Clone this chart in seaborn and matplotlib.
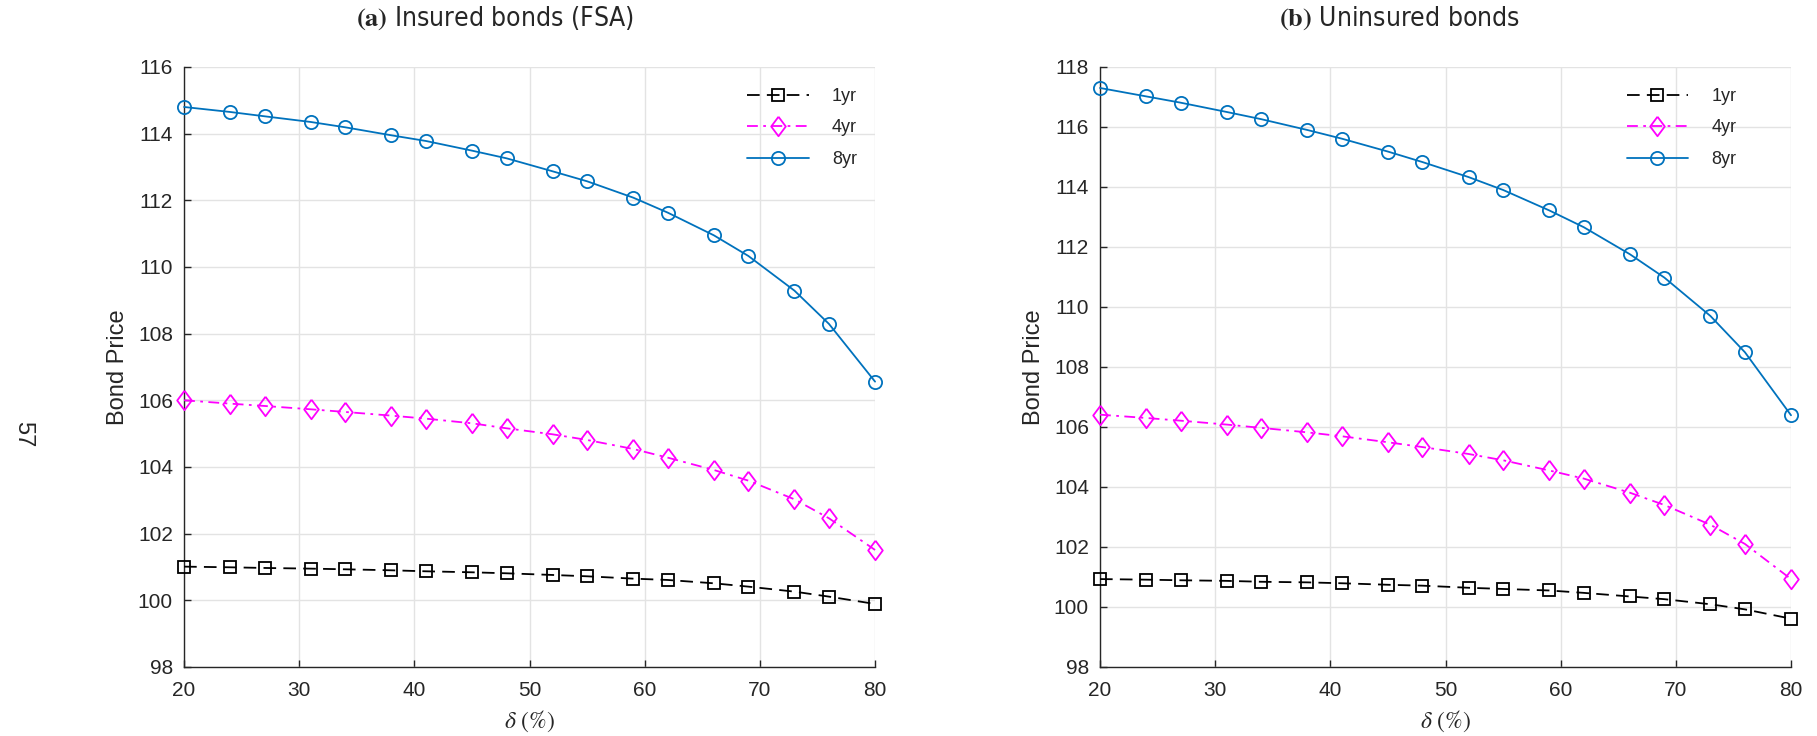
import numpy as np
import pandas as pd
import seaborn as sns
from matplotlib import pyplot as plt

# delta (%) at the marker positions
delta = [20, 24, 27, 31, 34, 38, 41, 45, 48, 52, 55, 59, 62, 66, 69, 73, 76, 80]

# (a) insured bonds (FSA)
ins_1yr = [101.01, 100.99, 100.97, 100.95, 100.93, 100.90, 100.87, 100.84, 100.81,
           100.76, 100.72, 100.65, 100.61, 100.51, 100.41, 100.26, 100.11, 99.89]
ins_4yr = [106.00, 105.90, 105.83, 105.73, 105.65, 105.54, 105.45, 105.31, 105.16,
           104.98, 104.81, 104.54, 104.28, 103.91, 103.59, 103.03, 102.46, 101.51]
ins_8yr = [114.80, 114.65, 114.52, 114.35, 114.19, 113.95, 113.78, 113.49, 113.26,
           112.87, 112.57, 112.08, 111.63, 110.95, 110.33, 109.29, 108.29, 106.56]

# (b) uninsured bonds
unins_1yr = [100.93, 100.91, 100.89, 100.87, 100.84, 100.82, 100.79, 100.74, 100.71,
             100.64, 100.60, 100.55, 100.47, 100.35, 100.26, 100.09, 99.92, 99.61]
unins_4yr = [106.41, 106.30, 106.21, 106.08, 105.97, 105.82, 105.69, 105.49, 105.33,
             105.10, 104.89, 104.55, 104.28, 103.81, 103.40, 102.74, 102.10, 100.93]
unins_8yr = [117.30, 117.02, 116.81, 116.50, 116.26, 115.90, 115.61, 115.18, 114.83,
             114.33, 113.90, 113.22, 112.66, 111.76, 110.98, 109.70, 108.49, 106.39]

labels = ['1yr', '4yr', '8yr']
titles = [r'$\mathbf{(a)}$ Insured bonds (FSA)', r'$\mathbf{(b)}$ Uninsured bonds']
ytops = [116, 118]

sns.set_style('white')
plt.rcParams['font.family'] = ['Liberation Sans', 'DejaVu Sans']
plt.rcParams['mathtext.fontset'] = 'stix'

# matlab-like diamond, a bit taller than wide
diamond = [(0, 1), (0.75, 0), (0, -1), (-0.75, 0), (0, 1)]

# line style / marker per maturity
styles = {'1yr': dict(color='black', linestyle=(0, (7, 4)), marker='s', ms=8),
          '4yr': dict(color='#FF00FF', linestyle=(0, (6, 3, 1.5, 3)), marker=diamond, ms=14),
          '8yr': dict(color='#0072BD', linestyle='-', marker='o', ms=9.5)}

fig = plt.figure(figsize=(18.17, 7.36), dpi=100)
ax1 = fig.add_axes([0.1013, 0.0938, 0.3803, 0.8152])
ax2 = fig.add_axes([0.6054, 0.0938, 0.3803, 0.8152])

panels = [(ax1, [ins_1yr, ins_4yr, ins_8yr]), (ax2, [unins_1yr, unins_4yr, unins_8yr])]
leg_x = [0.815, 0.762]
title_x = [0.2724, 0.770]

for i, (ax, series) in enumerate(panels):
    for lab, vals in zip(labels, series):
        st = styles[lab]
        sns.lineplot(x=delta, y=vals, ax=ax, color=st['color'], linestyle=st['linestyle'],
                     marker=st['marker'], markersize=st['ms'], markerfacecolor='none',
                     markeredgecolor=st['color'], markeredgewidth=1.3, linewidth=1.3,
                     label=lab, clip_on=False, zorder=3)
    ax.set_xlim(20, 80)
    ax.set_ylim(98, ytops[i])
    ax.set_xticks(np.arange(20, 81, 10))
    ax.set_yticks(np.arange(98, ytops[i] + 1, 2))
    ax.grid(True, color='#e3e3e3', linewidth=1)
    ax.set_axisbelow(True)
    for s in ['top', 'right']:
        ax.spines[s].set_visible(False)
    for s in ['left', 'bottom']:
        ax.spines[s].set_color('#262626')
        ax.spines[s].set_linewidth(1.0)
    ax.tick_params(direction='in', length=5, width=1, colors='#262626',
                   labelsize=15, left=True, bottom=True)
    ax.tick_params(axis='x', pad=10)
    ax.tick_params(axis='y', pad=8)
    ax.set_xlabel(r'$\delta\ (\%)$', fontsize=17, labelpad=6)
    ax.set_ylabel('Bond Price', fontsize=17, labelpad=6)
    fig.text(title_x[i], 0.975, titles[i], fontsize=19, ha='center', va='center',
             family='DejaVu Sans', fontstretch='condensed')
    ax.legend(loc='upper left', bbox_to_anchor=(leg_x[i], 0.965), frameon=False,
              fontsize=13, handlelength=3.4, handletextpad=1.3, labelspacing=0.8,
              borderpad=0, borderaxespad=0)

fig.text(0.0127, 0.41, '57', rotation=-90, fontsize=17, ha='center', va='center')

fig.savefig('out.png', dpi=100)
